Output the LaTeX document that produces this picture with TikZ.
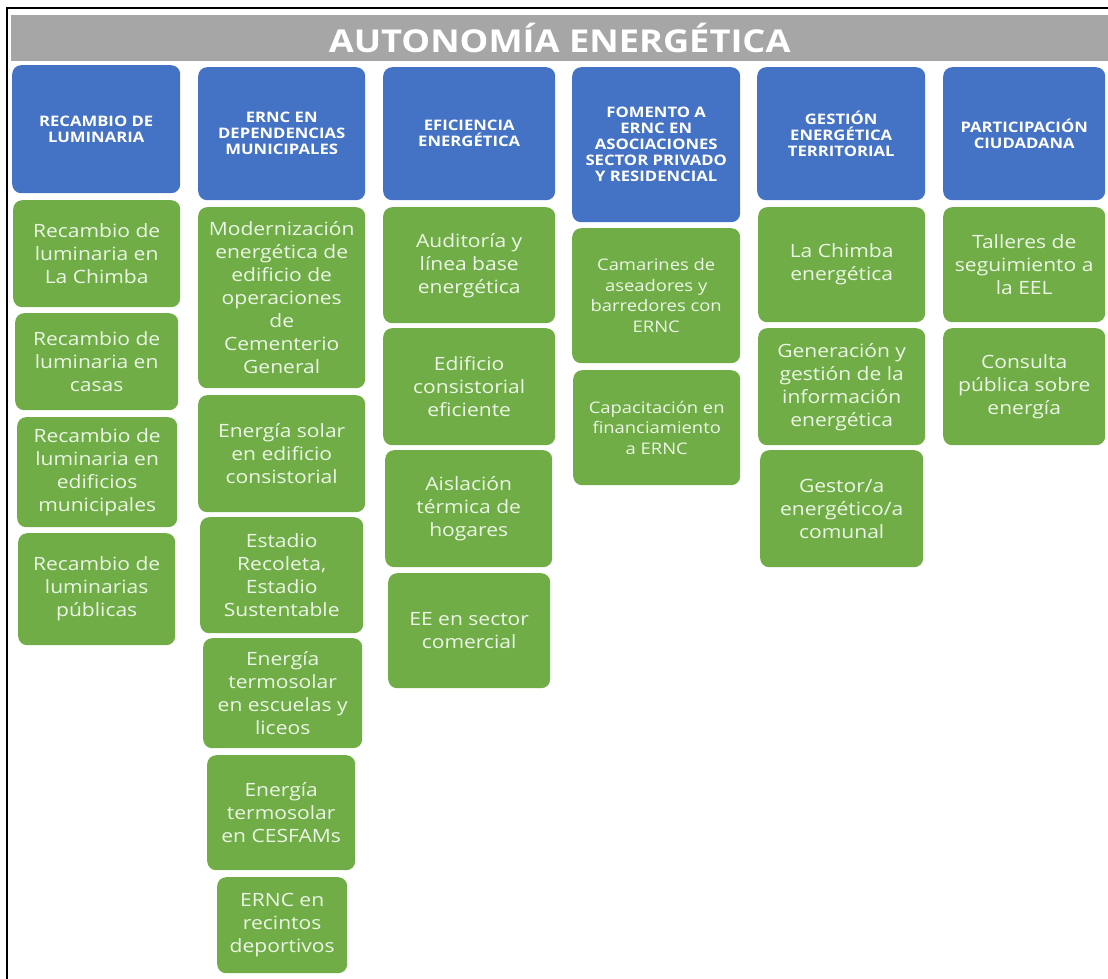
\documentclass[tikz,border=0pt]{standalone}
\usepackage{fontspec}
\setmainfont{Open Sans}[FakeStretch=1.15]
\usepackage{tikz}

\definecolor{barGray}{RGB}{166,166,166}
\definecolor{hdBlue}{RGB}{68,114,196}
\definecolor{lfGreen}{RGB}{112,173,71}
\definecolor{lfText}{RGB}{236,246,230}

\begin{document}
\begin{tikzpicture}[x=1pt, y=-1pt,
  wh/.style 2 args={minimum width=#1pt, minimum height=#2pt},
  head/.style={anchor=north west, fill=hdBlue, text=white, rounded corners=9pt, inner sep=0pt, align=center, font=\bfseries\fontsize{14.5}{16}\selectfont},
  leaf/.style={anchor=north west, fill=lfGreen, text=lfText, rounded corners=9pt, inner sep=0pt, align=center, font=\fontsize{18.3}{23}\selectfont},
  smallleaf/.style={leaf, font=\fontsize{16}{20.5}\selectfont}]
\useasboundingbox (0,0) rectangle (1108,979);

% frame and title
\draw[line width=2.5pt] (7,979) -- (7,8) -- (1108,8);
\node (title) at (11,15) [anchor=north west, fill=barGray, text=white, inner sep=0pt, wh={1097}{46}, font=\bfseries\fontsize{31.5}{34}\selectfont] {AUTONOMÍA ENERGÉTICA};

% headers
\node (h1) at (12,65)  [head, wh={168}{128}] {RECAMBIO DE\\LUMINARIA};
\node (h2) at (198,67) [head, wh={167}{133}] {ERNC EN\\DEPENDENCIAS\\MUNICIPALES};
\node (h3) at (383,67) [head, wh={172}{133}] {EFICIENCIA\\ENERGÉTICA};
\node (h4) at (572,67) [head, wh={168}{155}] {FOMENTO A\\ERNC EN\\ASOCIACIONES\\SECTOR PRIVADO\\Y RESIDENCIAL};
\node (h5) at (757,67) [head, wh={168}{133}] {GESTIÓN\\ENERGÉTICA\\TERRITORIAL};
\node (h6) at (943,67) [head, wh={162}{133}] {PARTICIPACIÓN\\CIUDADANA};

% recambio de luminaria
\node (g11) at (13,200) [leaf, wh={167}{107}] {Recambio de\\luminaria en\\La Chimba};
\node (g12) at (15,313) [leaf, wh={163}{97}]  {Recambio de\\luminaria en\\casas};
\node (g13) at (17,417) [leaf, wh={160}{110}] {Recambio de\\luminaria en\\edificios\\municipales};
\node (g14) at (18,533) [leaf, wh={157}{112}] {Recambio de\\luminarias\\públicas};

% ernc en dependencias
\node (g21) at (198,207) [leaf, wh={167}{181}] {Modernización\\energética de\\edificio de\\operaciones\\de\\Cementerio\\General};
\node (g22) at (198,395) [leaf, wh={167}{117}] {Energía solar\\en edificio\\consistorial};
\node (g23) at (200,517) [leaf, wh={163}{116}] {Estadio\\Recoleta,\\Estadio\\Sustentable};
\node (g24) at (203,638) [leaf, wh={159}{110}] {Energía\\termosolar\\en escuelas y\\liceos};
\node (g25) at (207,755) [leaf, wh={148}{115}] {Energía\\termosolar\\en CESFAMs};
\node (g26) at (217,877) [leaf, wh={130}{96}]  {ERNC en\\recintos\\deportivos};

% eficiencia
\node (g31) at (383,207) [leaf, wh={172}{116}] {Auditoría y\\línea base\\energética};
\node (g32) at (383,328) [leaf, wh={172}{117}] {Edificio\\consistorial\\eficiente};
\node (g33) at (385,450) [leaf, wh={167}{117}] {Aislación\\térmica de\\hogares};
\node (g34) at (388,573) [leaf, wh={162}{115}] {EE en sector\\comercial};

% fomento
\node (g41) at (572,228) [smallleaf, wh={168}{135}] {Camarines de\\aseadores y\\barredores con\\ERNC};
\node (g42) at (573,370) [smallleaf, wh={167}{115}] {Capacitación en\\financiamiento\\a ERNC};

% gestion
\node (g51) at (758,207) [leaf, wh={167}{115}] {La Chimba\\energética};
\node (g52) at (758,328) [leaf, wh={167}{117}] {Generación y\\gestión de la\\información\\energética};
\node (g53) at (760,450) [leaf, wh={163}{117}] {Gestor/a\\energético/a\\comunal};

% participacion
\node (g61) at (943,207) [leaf, wh={162}{115}] {Talleres de\\seguimiento a\\la EEL};
\node (g62) at (943,328) [leaf, wh={162}{117}] {Consulta\\pública sobre\\energía};

\end{tikzpicture}
\end{document}
